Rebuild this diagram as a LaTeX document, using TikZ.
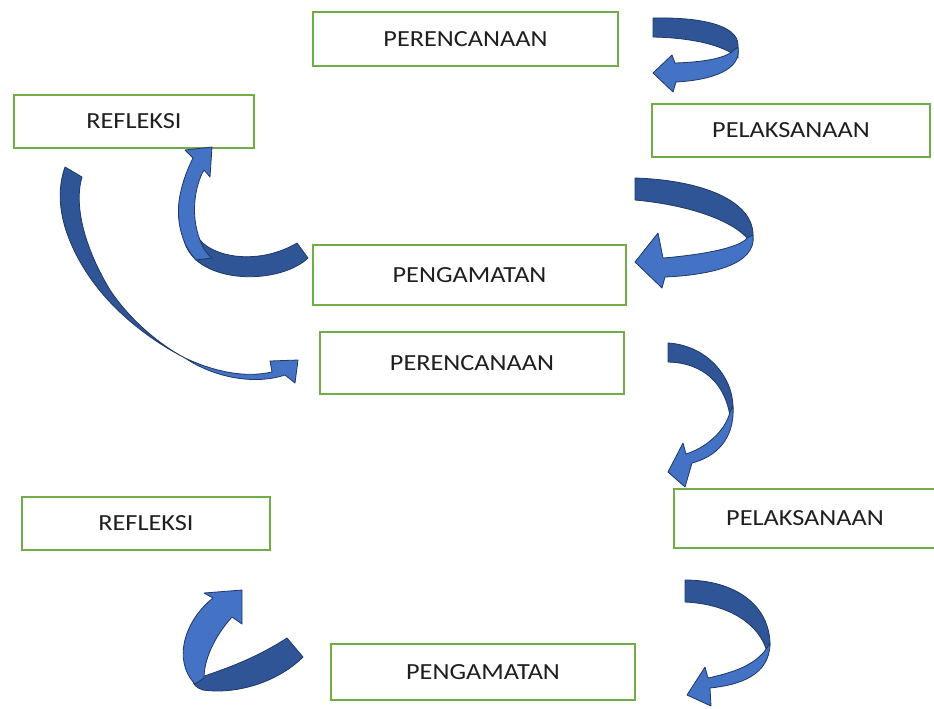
\documentclass[tikz,border=0pt]{standalone}
\usepackage{fontspec}
\setmainfont{Carlito}[FakeStretch=1.14]
\definecolor{boxgreen}{HTML}{70AD47}
\definecolor{arrdark}{HTML}{2F5597}
\definecolor{arrlight}{HTML}{4472C4}
\definecolor{arrline}{HTML}{1F3864}
\begin{document}
\begin{tikzpicture}[x=0.75pt,y=-0.75pt,
  stepbox/.style={draw=boxgreen,line width=1.6pt,fill=white,inner sep=0pt,
     font=\fontsize{17.3pt}{20pt}\selectfont,text=black!88},
  darkpart/.style={fill=arrdark,draw=arrline,line width=0.6pt,line join=round},
  lightpart/.style={fill=arrlight,draw=arrline,line width=0.6pt,line join=round}]
\path[use as bounding box] (0,0) rectangle (934,708);

% boxes
\node[stepbox,minimum width=305*0.75pt,minimum height=54*0.75pt] (p1) at (465.5,39) {PERENCANAAN};
\node[stepbox,minimum width=278*0.75pt,minimum height=53*0.75pt] (l1) at (791,130.5) {PELAKSANAAN};
\node[stepbox,minimum width=240*0.75pt,minimum height=53*0.75pt] (r1) at (134,121.5) {REFLEKSI};
\node[stepbox,minimum width=313*0.75pt,minimum height=60*0.75pt] (g1) at (469.5,275) {PENGAMATAN};
\node[stepbox,minimum width=304*0.75pt,minimum height=62*0.75pt] (p2) at (472,363) {PERENCANAAN};
\node[stepbox,minimum width=262*0.75pt,minimum height=59*0.75pt] (l2) at (805,518.5) {PELAKSANAAN};
\node[stepbox,minimum width=248*0.75pt,minimum height=53*0.75pt] (r2) at (146,523.5) {REFLEKSI};
\node[stepbox,minimum width=304*0.75pt,minimum height=56*0.75pt] (g2) at (483,672) {PENGAMATAN};

% A1: PERENCANAAN -> PELAKSANAAN
\draw[darkpart] (653,18) .. controls (700,17) and (738,25) .. (738,45) -- (738,58)
   .. controls (728,48) and (700,38) .. (653,37) -- cycle;
\draw[lightpart] (738,47) .. controls (742,70) and (712,80) .. (676,82) -- (673,92) -- (653,73)
   -- (672,55) -- (675,63) .. controls (708,62) and (728,57) .. (734,50) -- cycle;

% A2: PELAKSANAAN -> PENGAMATAN
\draw[darkpart] (635,178) .. controls (700,180) and (753,200) .. (753,235) -- (752,245)
   .. controls (740,222) and (690,205) .. (635,200) -- cycle;
\draw[lightpart] (753,235) .. controls (757,265) and (710,275) .. (665,277) -- (662,288) -- (635,262)
   -- (658,233) -- (663,258) .. controls (700,255) and (740,248) .. (747,238) -- cycle;

% A3: PENGAMATAN -> REFLEKSI
\draw[darkpart] (297,243) -- (308,258) .. controls (285,280) and (225,285) .. (196,260)
   .. controls (188,252) and (184,244) .. (183,235)
   .. controls (192,232) and (197,236) .. (200,240)
   .. controls (215,258) and (260,265) .. (297,243) -- cycle;
\draw[lightpart] (196,260) .. controls (182,245) and (175,220) .. (180,195)
   .. controls (183,180) and (188,168) .. (193,158) -- (185,150) -- (212,147) -- (210,177) -- (204,170)
   .. controls (195,185) and (190,215) .. (200,240) .. controls (203,248) and (205,252) .. (212,258) -- cycle;

% A4: REFLEKSI -> PERENCANAAN (2)
\draw[darkpart] (65,167) -- (82,177) .. controls (75,200) and (80,240) .. (110,290)
   .. controls (130,320) and (160,345) .. (185,358)
   .. controls (150,340) and (110,310) .. (85,270) .. controls (60,230) and (55,195) .. (65,167) -- cycle;
\draw[lightpart] (185,358) .. controls (215,372) and (245,378) .. (272,372) -- (270,361) -- (298,360)
   -- (295,383) -- (285,375) .. controls (255,385) and (215,378) .. (185,358) -- cycle;

% A5: PERENCANAAN (2) -> PELAKSANAAN (2)
\draw[darkpart] (668,343) .. controls (705,345) and (733,375) .. (733,408) -- (730,416)
   .. controls (725,385) and (705,363) .. (668,362) -- cycle;
\draw[lightpart] (733,406) .. controls (735,440) and (715,457) .. (692,463) -- (685,487) -- (668,472)
   -- (683,443) -- (686,454) .. controls (705,448) and (725,432) .. (730,412) -- cycle;

% A6: PELAKSANAAN (2) -> PENGAMATAN (2)
\draw[darkpart] (685,580) .. controls (735,580) and (770,605) .. (770,645) -- (767,652)
   .. controls (760,625) and (730,604) .. (685,602) -- cycle;
\draw[lightpart] (770,643) .. controls (770,675) and (740,685) .. (710,688) -- (711,706) -- (687,695)
   -- (705,667) -- (708,678) .. controls (735,672) and (755,665) .. (767,648) -- cycle;

% A7: PENGAMATAN (2) -> REFLEKSI (2)
\draw[darkpart] (287,638) -- (303,657) .. controls (280,680) and (240,695) .. (203,690)
   .. controls (197,688) and (193,685) .. (193,680)
   .. controls (215,672) and (250,662) .. (287,638) -- cycle;
\draw[lightpart] (195,684) .. controls (172,660) and (185,620) .. (213,598) -- (204,593) -- (242,590)
   -- (242,624) -- (232,617) .. controls (214,637) and (204,660) .. (204,678) -- cycle;
\end{tikzpicture}
\end{document}
